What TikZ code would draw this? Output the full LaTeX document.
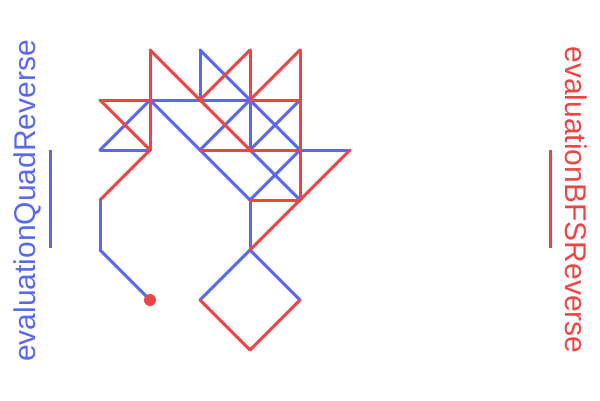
\documentclass[tikz,border=0pt]{standalone}
\usepackage{fontspec}
\setmainfont{Liberation Sans}
\usetikzlibrary{positioning}
\definecolor{quadblue}{RGB}{90,104,240}
\definecolor{bfsred}{RGB}{239,68,68}

\begin{document}
\begin{tikzpicture}[
      x=1pt, y=-1pt,
      edge/.style={line width=3pt, line cap=round, line join=round},
      qedge/.style={edge, draw=quadblue},
      bedge/.style={edge, draw=bfsred},
      lbl/.style={font=\fontsize{30}{36}\selectfont, inner sep=0pt, anchor=base}]
    \useasboundingbox (0,0) rectangle (600,400);
    % grid points (column c, row r), 50 apart
    \foreach \c in {0,...,5}
      \foreach \r in {0,...,6}
        \coordinate (g\c-\r) at (100+50*\c, 50+50*\r);
    % quad edges
    \foreach \a/\b in {g2-0/g2-1, g2-0/g3-1, g1-1/g2-1, g2-1/g3-1,
                       g0-2/g1-1, g0-2/g1-2, g1-1/g2-2, g2-2/g3-3,
                       g2-2/g3-1, g3-1/g3-2, g3-1/g4-2, g3-2/g4-1,
                       g3-2/g4-3, g4-2/g3-3, g4-2/g5-2, g3-3/g3-4,
                       g3-4/g2-5, g3-4/g4-5, g0-3/g0-4, g0-4/g1-5}
      \draw[qedge] (\a) -- (\b);
    % bfs edges
    \foreach \a/\b in {g1-0/g1-1, g1-1/g1-2, g1-0/g2-1, g0-1/g1-1,
                       g0-1/g1-2, g1-2/g0-3, g2-1/g3-0, g3-0/g3-1,
                       g2-1/g3-2, g3-1/g4-0, g4-0/g4-1, g3-1/g4-1,
                       g4-1/g4-2, g2-2/g3-2, g3-2/g4-2, g4-2/g4-3,
                       g3-3/g4-3, g5-2/g4-3, g4-3/g3-4, g2-5/g3-6,
                       g3-6/g4-5}
      \draw[bedge] (\a) -- (\b);
    % start point
    \node[circle, fill=bfsred, inner sep=0pt, minimum size=12pt] (start) at (g1-5) {};
    % legends
    \node[lbl, text=quadblue, rotate=90] (quadlbl) at (35,201) {evaluationQuadReverse};
    \node[lbl, text=bfsred, rotate=-90] (bfslbl) at (565,200) {evaluationBFSReverse};
    \coordinate (qtop) at (50,150);
    \coordinate (qbot) at (50,248);
    \coordinate (btop) at (550,150);
    \coordinate (bbot) at (550,248);
    \draw[qedge, line cap=butt] (qtop) -- (qbot);
    \draw[bedge, line cap=butt] (btop) -- (bbot);
\end{tikzpicture}
\end{document}
